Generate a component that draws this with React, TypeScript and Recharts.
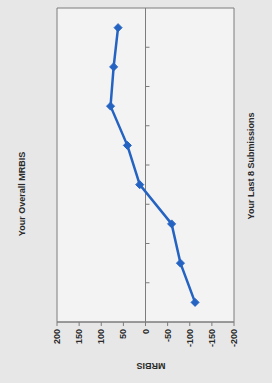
import React from 'react';
import { LineChart, Line, XAxis, YAxis, ReferenceArea, ReferenceLine } from 'recharts';

const submissions = [1, 2, 3, 4, 5, 6, 7, 8];
const mrbisValues = [-112, -79, -59, 13, 41, 79, 72, 62];
const valueTicks = [-200, -150, -100, -50, 0, 50, 100, 150, 200];
const categoryBoundaries = [1.5, 2.5, 3.5, 4.5, 5.5, 6.5, 7.5];

const chartTitle = 'Your Overall MRBIS';
const categoryTitle = 'Your Last 8 Submissions';
const valueTitle = 'MRBIS';

const data = submissions.map((s, i) => ({ sub: s, mrbis: mrbisValues[i] }));

const FONT = '"Liberation Sans", Arial, Helvetica, sans-serif';
const TEXT = '#2a2a2a';
const AXIS = '#7c7c7c';
const BLUE = '#2463c2';

const ValueTick = (props: any) => {
  const { x, y, payload } = props;
  return (
    <text
      x={x}
      y={y}
      transform={`rotate(-90 ${x} ${y})`}
      textAnchor="end"
      dominantBaseline="central"
      fontFamily={FONT}
      fontSize={9}
      fontWeight="bold"
      fill={TEXT}
    >
      {payload.value}
    </text>
  );
};

const Diamond = (props: any) => {
  const { cx, cy, index } = props;
  if (cx == null || cy == null) return <g key={`d-${index}`} />;
  const r = 4;
  return (
    <path
      key={`d-${index}`}
      d={`M${cx},${cy - r} L${cx + r},${cy} L${cx},${cy + r} L${cx - r},${cy} Z`}
      fill={BLUE}
      stroke={BLUE}
      strokeWidth={1}
    />
  );
};

const labelStyle: React.CSSProperties = {
  position: 'absolute',
  fontFamily: FONT,
  fontSize: 9,
  fontWeight: 'bold',
  color: TEXT,
  whiteSpace: 'nowrap',
  lineHeight: 1,
};

export default function App() {
  return (
    <div
      style={{
        position: 'absolute',
        left: 0,
        top: 0,
        width: 272,
        height: 383,
        background: '#e7e7e8',
        overflow: 'hidden',
      }}
    >
      <LineChart
        layout="vertical"
        width={272}
        height={383}
        data={data}
        margin={{ top: 8, right: 38, bottom: 31, left: 57 }}
      >
        <ReferenceArea
          x1={-200}
          x2={200}
          y1={0.5}
          y2={8.5}
          fill="#f3f3f3"
          fillOpacity={1}
          stroke={AXIS}
          strokeWidth={1}
        />
        <XAxis
          type="number"
          domain={[-200, 200]}
          ticks={valueTicks}
          reversed
          interval={0}
          allowDataOverflow
          height={30}
          tickSize={4}
          tickMargin={3}
          stroke={AXIS}
          tick={<ValueTick />}
        />
        <YAxis type="number" dataKey="sub" domain={[0.5, 8.5]} reversed hide allowDataOverflow />
        <ReferenceLine x={0} stroke={AXIS} strokeWidth={1} />
        {categoryBoundaries.map((b) => (
          <ReferenceLine
            key={`b-${b}`}
            segment={[
              { x: 0, y: b },
              { x: -9, y: b },
            ]}
            stroke={AXIS}
            strokeWidth={1}
          />
        ))}
        <Line
          dataKey="mrbis"
          stroke={BLUE}
          strokeWidth={2.5}
          dot={<Diamond />}
          activeDot={false}
          isAnimationActive={false}
        />
      </LineChart>
      <div
        style={{
          ...labelStyle,
          left: 22,
          top: 194,
          transform: 'translate(-50%, -50%) rotate(-90deg)',
        }}
      >
        {chartTitle}
      </div>
      <div
        style={{
          ...labelStyle,
          left: 251,
          top: 166,
          transform: 'translate(-50%, -50%) rotate(-90deg)',
        }}
      >
        {categoryTitle}
      </div>
      <div
        style={{
          ...labelStyle,
          left: 151,
          top: 365,
          transform: 'translate(-50%, -50%) rotate(180deg)',
        }}
      >
        {valueTitle}
      </div>
    </div>
  );
}
